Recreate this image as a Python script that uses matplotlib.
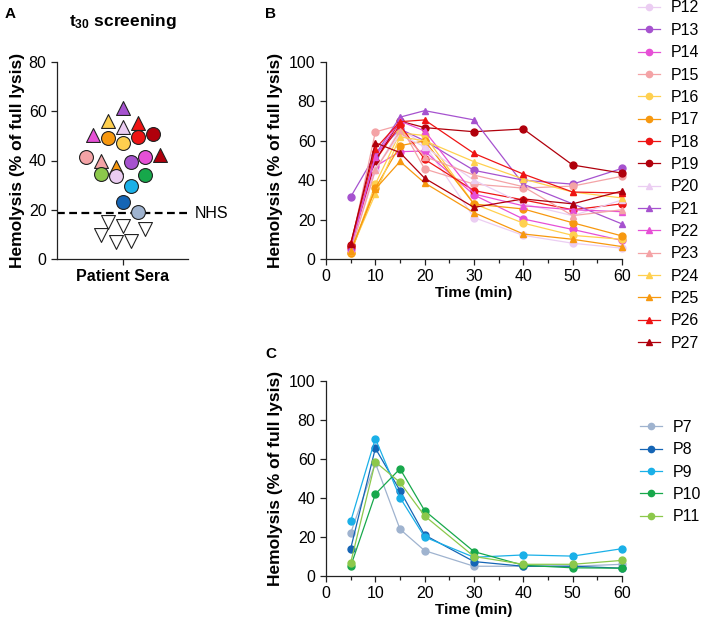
import matplotlib
matplotlib.use("Agg")
import matplotlib.pyplot as plt

plt.rcParams['font.family'] = ['Liberation Sans', 'DejaVu Sans']
plt.rcParams['mathtext.fontset'] = 'custom'
plt.rcParams['mathtext.rm'] = 'Liberation Sans'
plt.rcParams['mathtext.bf'] = 'Liberation Sans:bold'
plt.rcParams['mathtext.it'] = 'Liberation Sans:italic'

# ---------------- data ----------------
time = [5, 10, 15, 20, 30, 40, 50, 60]

# Panel B series (P12-P27)
b_labels = ["P12", "P13", "P14", "P15", "P16", "P17", "P18", "P19",
            "P20", "P21", "P22", "P23", "P24", "P25", "P26", "P27"]
P12 = [4, 45, 66, 58, 21, 12, 8, 5.5]
P13 = [31.5, 53, 66, 60, 45, 40, 38, 46]
P14 = [5, 47, 54.5, 54.8, 32.5, 20.3, 15, 9.4]
P15 = [6, 64.5, 68, 45.7, 38, 36, 37, 42]
P16 = [3, 38, 64, 62.7, 28, 18.2, 12, 10]
P17 = [3, 36, 57.5, 60, 27.9, 25.4, 18.4, 11.7]
P18 = [6, 50, 68, 50.6, 34.7, 30, 25, 28]
P19 = [7, 50, 70, 66.7, 64.6, 66, 47.7, 43.6]
P20 = [5, 46, 63, 57, 40, 28, 22, 30]
P21 = [6, 53, 72, 75.3, 70.6, 38, 28, 17.8]
P22 = [5, 52, 70, 65, 33, 27, 25, 24]
P23 = [4, 45, 65, 52, 42.6, 36.7, 22, 25]
P24 = [4, 33, 62, 60, 49.4, 40.6, 34, 31]
P25 = [4, 35.5, 49.5, 38.6, 23.5, 12.7, 10, 6.3]
P26 = [8, 56, 69.7, 70.6, 53.6, 43.1, 34, 33.5]
P27 = [7.5, 59, 54, 41, 26.2, 30.5, 28, 34.5]
b_values = [P12, P13, P14, P15, P16, P17, P18, P19,
            P20, P21, P22, P23, P24, P25, P26, P27]

# Panel C series (P7-P11)
c_labels = ["P7", "P8", "P9", "P10", "P11"]
P7 = [22, 58, 24, 13, 5, 5, 5, 6]
P8 = [14, 65.5, 43.8, 21, 7.4, 5, 5, 4]
P9 = [28, 70.5, 40.2, 20, 9.6, 10.8, 10.2, 14]
P10 = [5, 42, 55, 33.5, 12.5, 5.5, 4.2, 4]
P11 = [6.8, 58.5, 48, 30.8, 10, 6, 6, 8]
c_values = [P7, P8, P9, P10, P11]

# Panel A: t30 screening values
a_values = [61.3, 56, 53.7, 55.4, 50.4, 49.3, 47, 49.4, 50.9,
            41.3, 39.7, 37.5, 39.5, 41.3, 42.2, 34.5, 33.8, 34.2,
            29.8, 23, 19.2,
            15.2, 13.5, 12, 9.8, 6.8, 7.4]
a_patients = ["P21", "P24", "P20", "P26", "P22", "P17", "P16", "P18", "P19",
              "P15", "P23", "P25", "P13", "P14", "P27", "P11", "P12", "P10",
              "P9", "P8", "P7",
              "neg", "neg", "neg", "neg", "neg", "neg"]
nhs_value = 18.5

# ---------------- styles ----------------
colors = {
    "P7": "#9fb3cf", "P8": "#1565b5", "P9": "#1ab0e8", "P10": "#17a84b", "P11": "#8cc84b",
    "P12": "#ebcdf2", "P13": "#a652cf", "P14": "#e650d6", "P15": "#f4a3a6",
    "P16": "#ffd04f", "P17": "#f7980f", "P18": "#ee1414", "P19": "#b0000c",
    "P20": "#ebcdf2", "P21": "#a652cf", "P22": "#e650d6", "P23": "#f4a3a6",
    "P24": "#ffd04f", "P25": "#f7980f", "P26": "#ee1414", "P27": "#b0000c",
    "neg": "white",
}
def marker_of(p):
    if p == "neg":
        return "v"
    n = int(p[1:])
    return "^" if n >= 20 else "o"

# horizontal jitter (layout only)
a_jitter = [0.0, -0.22, 0.0, 0.24, -0.45, -0.22, 0.0, 0.24, 0.47,
            -0.55, -0.33, -0.10, 0.13, 0.35, 0.58, -0.33, -0.10, 0.35,
            0.13, 0.0, 0.24,
            -0.22, 0.0, 0.35, -0.33, -0.10, 0.13]

W, H = 708, 624
fig = plt.figure(figsize=(W / 100, H / 100), dpi=100)

def ax_px(left, right, bottom_px, top_px):
    return fig.add_axes([left / W, 1 - bottom_px / H, (right - left) / W, (bottom_px - top_px) / H])

TICK_FS = 11.5
LAB_FS = 11
YLAB_FS = 12.5

def style(ax):
    for s in ["top", "right"]:
        ax.spines[s].set_visible(False)
    for s in ["left", "bottom"]:
        ax.spines[s].set_linewidth(0.9)
        ax.spines[s].set_color("#222222")
    ax.tick_params(axis="both", labelsize=TICK_FS, width=0.9, length=4, color="#222222")
    ax.tick_params(which="minor", width=0.9, length=3, color="#222222")

# ---------------- Panel A ----------------
axA = ax_px(57, 188, 259, 62)
style(axA)
for v, p, j in zip(a_values, a_patients, a_jitter):
    axA.scatter(j, v, s=100, marker=marker_of(p), facecolor=colors[p],
                edgecolor="#222222", linewidth=0.8, zorder=3, clip_on=False)
axA.axhline(nhs_value, color="black", linestyle=(0, (3.5, 2)), linewidth=1.6, zorder=2)
axA.text(1.1, nhs_value, "NHS", fontsize=TICK_FS, va="center", ha="left")
axA.set_xlim(-1, 1)
axA.set_ylim(0, 80)
axA.set_yticks([0, 20, 40, 60, 80])
axA.set_xticks([0])
axA.set_xticklabels(["Patient Sera"], fontweight="bold", fontsize=11.5)
axA.set_ylabel("Hemolysis (% of full lysis)", fontweight="bold", fontsize=YLAB_FS, labelpad=3)
axA.set_title(r"$\mathbf{t_{30}}$ screening", fontweight="bold", fontsize=12.5, pad=26)

# ---------------- Panel B ----------------
axB = ax_px(326, 622, 259, 62)
style(axB)
for lab, vals in zip(b_labels, b_values):
    axB.plot(time, vals, color=colors[lab], marker=marker_of(lab), markersize=5,
             linewidth=0.9, label=lab, clip_on=False)
axB.set_xlim(0, 60)
axB.set_ylim(0, 100)
axB.set_xticks([0, 10, 20, 30, 40, 50, 60])
axB.set_xticks([5, 15, 25, 35, 45, 55], minor=True)
axB.set_yticks([0, 20, 40, 60, 80, 100])
axB.set_xlabel("Time (min)", fontweight="bold", fontsize=LAB_FS, labelpad=1)
axB.set_ylabel("Hemolysis (% of full lysis)", fontweight="bold", fontsize=YLAB_FS)
axB.legend(loc="upper left", bbox_to_anchor=(638 / W, 1 - 0.5 / H), bbox_transform=fig.transFigure,
           frameon=False, fontsize=TICK_FS, handlelength=1.35, handletextpad=0.7,
           labelspacing=0.46, markerscale=0.9, borderaxespad=0, borderpad=0)

# ---------------- Panel C ----------------
axC = ax_px(326, 622, 576, 381)
style(axC)
for lab, vals in zip(c_labels, c_values):
    axC.plot(time, vals, color=colors[lab], marker="o", markersize=5,
             linewidth=0.9, label=lab, clip_on=False)
axC.set_xlim(0, 60)
axC.set_ylim(0, 100)
axC.set_xticks([0, 10, 20, 30, 40, 50, 60])
axC.set_xticks([5, 15, 25, 35, 45, 55], minor=True)
axC.set_yticks([0, 20, 40, 60, 80, 100])
axC.set_xlabel("Time (min)", fontweight="bold", fontsize=LAB_FS, labelpad=1)
axC.set_ylabel("Hemolysis (% of full lysis)", fontweight="bold", fontsize=YLAB_FS)
axC.legend(loc="upper left", bbox_to_anchor=(640 / W, 1 - 420 / H), bbox_transform=fig.transFigure,
           frameon=False, fontsize=TICK_FS, handlelength=1.35, handletextpad=0.7,
           labelspacing=0.46, markerscale=0.9, borderaxespad=0, borderpad=0)

# panel letters
fig.text(5 / W, 1 - 14 / H, "A", fontsize=11, fontweight="bold", va="center")
fig.text(265 / W, 1 - 14 / H, "B", fontsize=11, fontweight="bold", va="center")
fig.text(265 / W, 1 - 354 / H, "C", fontsize=11, fontweight="bold", va="center")

fig.savefig("out.png", dpi=100)
